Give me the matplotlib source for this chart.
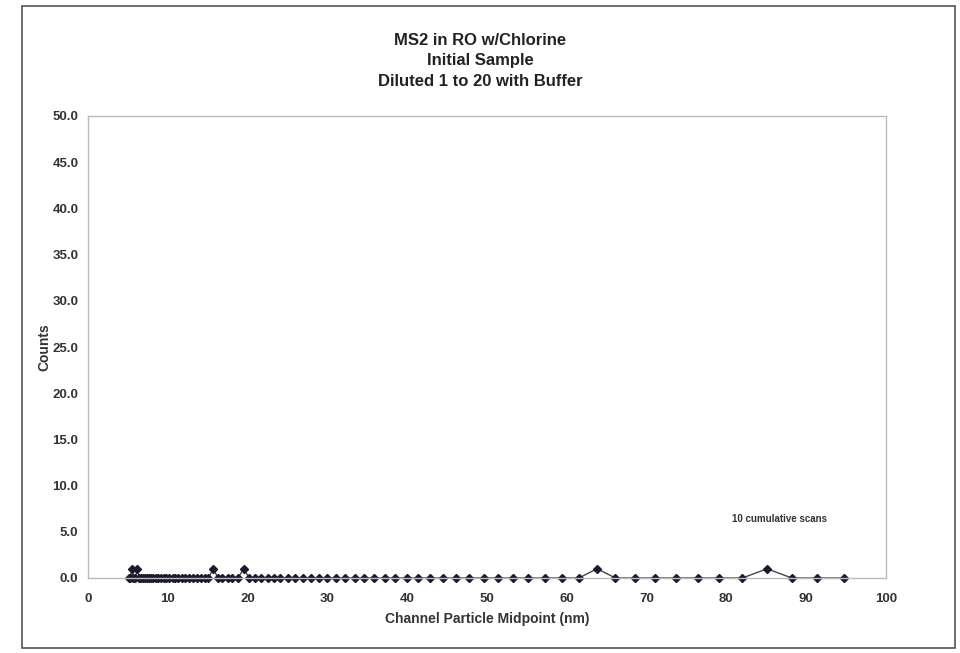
import matplotlib.pyplot as plt
from matplotlib.patches import Rectangle

plt.rcParams["font.family"] = ["Liberation Sans", "DejaVu Sans"]

# channel midpoints (nm) and counts
midpoints = [5.1, 5.3, 5.5, 5.7, 5.9, 6.2, 6.4, 6.6, 6.9, 7.1, 7.4, 7.6, 7.9,
             8.2, 8.5, 8.8, 9.2, 9.5, 9.8, 10.2, 10.6, 10.9, 11.3, 11.8, 12.2,
             12.6, 13.1, 13.6, 14.1, 14.6, 15.1, 15.7, 16.3, 16.8, 17.5, 18.1,
             18.8, 19.5, 20.2, 20.9, 21.7, 22.5, 23.3, 24.1, 25.0, 25.9, 26.9,
             27.9, 28.9, 30.0, 31.1, 32.2, 33.4, 34.6, 35.9, 37.2, 38.5, 40.0,
             41.4, 42.9, 44.5, 46.1, 47.8, 49.6, 51.4, 53.3, 55.2, 57.3, 59.4,
             61.5, 63.8, 66.1, 68.5, 71.0, 73.7, 76.4, 79.1, 82.0, 85.1, 88.2,
             91.4, 94.7]
counts = [0, 0, 1, 0, 0, 1, 0, 0, 0, 0, 0, 0, 0,
          0, 0, 0, 0, 0, 0, 0, 0, 0, 0, 0, 0,
          0, 0, 0, 0, 0, 0, 1, 0, 0, 0, 0,
          0, 1, 0, 0, 0, 0, 0, 0, 0, 0, 0,
          0, 0, 0, 0, 0, 0, 0, 0, 0, 0, 0,
          0, 0, 0, 0, 0, 0, 0, 0, 0, 0, 0,
          0, 1, 0, 0, 0, 0, 0, 0, 0, 1, 0,
          0, 0]

x_ticks = list(range(0, 101, 10))
y_ticks = [0, 5, 10, 15, 20, 25, 30, 35, 40, 45, 50]

fig = plt.figure(figsize=(9.6, 6.53), dpi=100)
ax = fig.add_axes([88 / 960, 1 - 578 / 653, (886 - 88) / 960, (578 - 116) / 653])

# outer chart border
fig.patches.append(Rectangle((22 / 960, 5 / 653), 933 / 960, 642 / 653,
                             transform=fig.transFigure, fill=False,
                             edgecolor="#555555", linewidth=1.2))

ax.plot(midpoints, counts, color="#444444", linewidth=1.0, marker="D",
        markersize=3.8, markerfacecolor="#1a1a2a", markeredgecolor="#1a1a2a",
        clip_on=False)

ax.set_xlim(0, 100)
ax.set_ylim(0, 50)
ax.set_xticks(x_ticks)
ax.set_yticks(y_ticks)
ax.set_yticklabels([f"{v:.1f}" for v in y_ticks])
for spine in ax.spines.values():
    spine.set_color("#bbbbbb")
    spine.set_linewidth(1.0)
ax.tick_params(length=0, labelsize=9.5, labelcolor="#333333")
ax.tick_params(axis="x", pad=11)
ax.tick_params(axis="y", pad=7)
for lab in ax.get_xticklabels() + ax.get_yticklabels():
    lab.set_fontweight("bold")

ax.set_xlabel("Channel Particle Midpoint (nm)", fontsize=10, fontweight="bold",
              color="#333333", labelpad=5)
ax.set_ylabel("Counts", fontsize=10, fontweight="bold", color="#333333",
              labelpad=1)

fig.text(480 / 960, 1 - 61 / 653,
         "MS2 in RO w/Chlorine\nInitial Sample\nDiluted 1 to 20 with Buffer",
         ha="center", va="center", fontsize=12, fontweight="bold",
         color="#222222", linespacing=1.42)

ax.text(86.7, 6.4, "10 cumulative scans", ha="center", va="center",
        fontsize=7, fontweight="bold", color="#333333")

fig.savefig("out.png", dpi=100)
